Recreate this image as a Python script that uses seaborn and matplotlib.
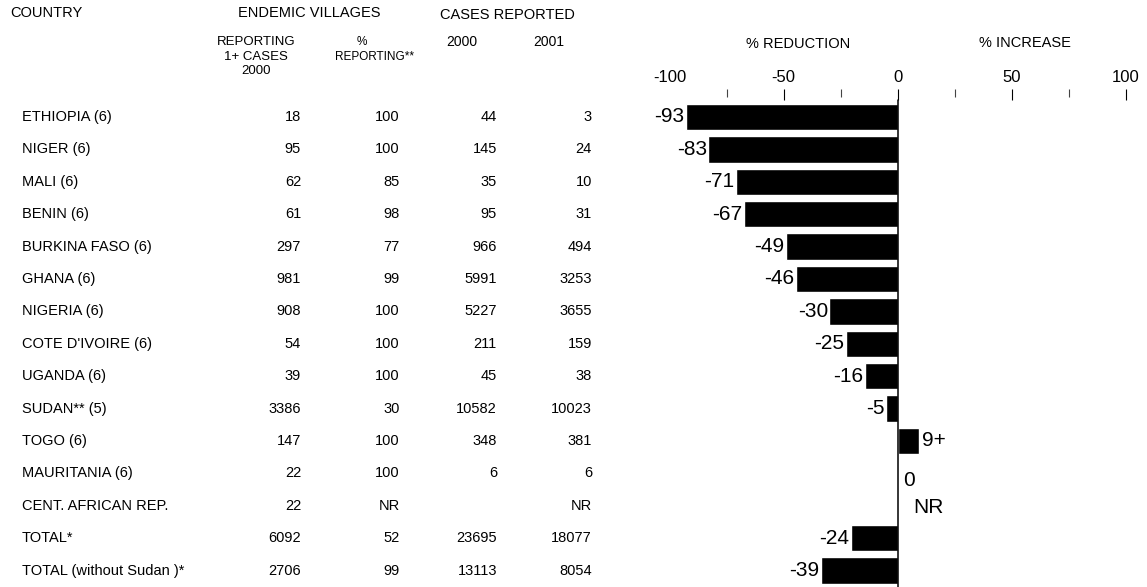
import numpy as np
import pandas as pd
import matplotlib
matplotlib.use('Agg')
import matplotlib.pyplot as plt
import matplotlib.transforms as mtransforms
import seaborn as sns

# ── data ─────────────────────────────────────────────────────
countries = ["ETHIOPIA (6)", "NIGER (6)", "MALI (6)", "BENIN (6)", "BURKINA FASO (6)",
             "GHANA (6)", "NIGERIA (6)", "COTE D'IVOIRE (6)", "UGANDA (6)", "SUDAN** (5)",
             "TOGO (6)", "MAURITANIA (6)", "CENT. AFRICAN REP.", "TOTAL*",
             "TOTAL (without Sudan )*"]
villages_2000 = [18, 95, 62, 61, 297, 981, 908, 54, 39, 3386, 147, 22, 22, 6092, 2706]
pct_reporting = [100, 100, 85, 98, 77, 99, 100, 100, 100, 30, 100, 100, "NR", 52, 99]
cases_2000 = [44, 145, 35, 95, 966, 5991, 5227, 211, 45, 10582, 348, 6, "", 23695, 13113]
cases_2001 = [3, 24, 10, 31, 494, 3253, 3655, 159, 38, 10023, 381, 6, "NR", 18077, 8054]
# bar lengths as drawn in the picture, and the labels printed next to them
bar_change = [-93, -83, -71, -67.5, -49, -44.7, -30, -22.8, -14.3, -5.1, 9.3, 0, np.nan, -20.6, -33.8]
bar_labels = ["-93", "-83", "-71", "-67", "-49", "-46", "-30", "-25", "-16", "-5",
              "9+", "0", "NR", "-24", "-39"]
x_ticks = [-100, -50, 0, 50, 100]
x_minor = [-75, -25, 25, 75]

df = pd.DataFrame({"country": countries, "change": bar_change})

# ── figure setup ─────────────────────────────────────────────
sns.set_style("white")
plt.rcParams['font.family'] = ['Liberation Sans', 'DejaVu Sans']
plt.rcParams['text.color'] = 'black'
plt.rcParams['xtick.color'] = 'black'
plt.rcParams['xtick.labelcolor'] = 'black'

W, H = 1147, 587
fig = plt.figure(figsize=(W / 100, H / 100), dpi=100)
zero_px, ppu = 897.7, 2.28
x_lo, x_hi = -110, 105
spine_px = 89
ax = fig.add_axes([(zero_px + x_lo * ppu) / W, 0,
                   (x_hi - x_lo) * ppu / W, (H - spine_px) / H])

sns.barplot(data=df.dropna(), x="change", y="country", order=countries,
            color="black", saturation=1, width=0.82, orient="h",
            errorbar=None, ax=ax)

row0, step = 117, 32.4
ax.set_xlim(x_lo, x_hi)
ax.set_ylim((H - row0) / step, (spine_px - row0) / step)
ax.set_ylabel("")
ax.set_xlabel("")
ax.set_yticks([])
for s in ax.spines.values():
    s.set_visible(False)

ax.xaxis.tick_top()
ax.set_xticks(x_ticks)
ax.set_xticks(x_minor, minor=True)
ax.set_xticklabels([str(t) for t in x_ticks], fontsize=12)
ax.tick_params(axis='x', which='major', direction='in', length=8, width=0.8,
               pad=3, color='black', top=True, bottom=False)
ax.tick_params(axis='x', which='minor', direction='in', length=5.5, width=0.8,
               color='#444444', top=True, bottom=False)
ax.xaxis.get_major_ticks()[0].tick2line.set_visible(False)

ax.axvline(0, ymin=0, ymax=(H - 100) / (H - spine_px), color='black', lw=1.1)

# bar value labels
for i, (v, lab) in enumerate(zip(bar_change, bar_labels)):
    if lab == "NR":
        ax.annotate(lab, (0, i), xytext=(11, -1), textcoords='offset points',
                    ha='left', va='center', fontsize=15)
    elif lab == "0":
        ax.annotate(lab, (0, i), xytext=(4, -5), textcoords='offset points',
                    ha='left', va='center', fontsize=15)
    elif v > 0:
        ax.annotate(lab, (v, i), xytext=(2, 0), textcoords='offset points',
                    ha='left', va='center', fontsize=15)
    else:
        ax.annotate(lab, (v, i), xytext=(-1, 0), textcoords='offset points',
                    ha='right', va='center', fontsize=15)

# ── table on the left ────────────────────────────────────────
trans = mtransforms.blended_transform_factory(fig.transFigure, ax.transData)
col_right = [301, 400, 497, 592]
for i, name in enumerate(countries):
    ax.text(22 / W, i, name, transform=trans, ha='left', va='center',
            fontsize=10.5, clip_on=False)
    row_vals = [villages_2000[i], pct_reporting[i], cases_2000[i], cases_2001[i]]
    for xr, val in zip(col_right, row_vals):
        ax.text(xr / W, i, str(val), transform=trans, ha='right', va='center',
                fontsize=10.5, clip_on=False)

def htext(x, y, s, size, ha='center'):
    fig.text(x / W, 1 - y / H, s, ha=ha, va='center', fontsize=size)

htext(10, 13, "COUNTRY", 10.5, ha='left')
htext(309, 13, "ENDEMIC VILLAGES", 10.5)
htext(507, 15, "CASES REPORTED", 10.5)
htext(256, 42, "REPORTING", 9.5)
htext(256, 57, "1+ CASES", 9.5)
htext(256, 71, "2000", 9.5)
htext(362, 42, "%", 8.5)
htext(375, 57, "REPORTING**", 8.5)
htext(462, 42, "2000", 10)
htext(549, 42, "2001", 10)
htext(798, 44, "% REDUCTION", 10.5)
htext(1025, 43, "% INCREASE", 10.5)

plt.savefig('out.png', dpi=100)
plt.close()
